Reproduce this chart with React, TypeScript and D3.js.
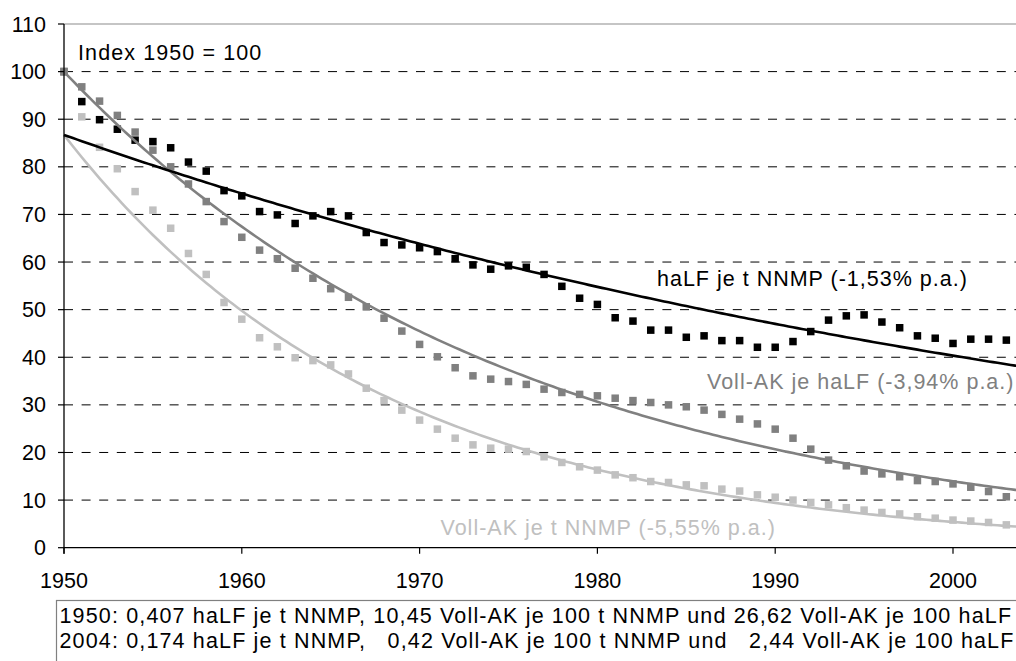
import React from 'react';
import * as d3 from 'd3';

// ---- data ----
const years = [
  1950, 1951, 1952, 1953, 1954, 1955, 1956, 1957, 1958, 1959,
  1960, 1961, 1962, 1963, 1964, 1965, 1966, 1967, 1968, 1969,
  1970, 1971, 1972, 1973, 1974, 1975, 1976, 1977, 1978, 1979,
  1980, 1981, 1982, 1983, 1984, 1985, 1986, 1987, 1988, 1989,
  1990, 1991, 1992, 1993, 1994, 1995, 1996, 1997, 1998, 1999,
  2000, 2001, 2002, 2003,
];

// haLF je t NNMP (black)
const haLFjeNNMP = [
  100, 93.7, 89.9, 87.9, 85.6, 85.3, 84.0, 81.0, 79.1, 75.0,
  73.9, 70.6, 69.9, 68.1, 69.7, 70.6, 69.7, 66.2, 64.1, 63.6,
  63.0, 62.2, 60.7, 59.4, 58.5, 59.2, 58.9, 57.4, 54.9, 52.4,
  51.1, 48.3, 47.6, 45.7, 45.7, 44.2, 44.5, 43.5, 43.5, 42.1,
  42.1, 43.3, 45.4, 47.8, 48.7, 48.9, 47.4, 46.2, 44.5, 44.0,
  42.9, 43.8, 43.8, 43.6,
];

// Voll-AK je haLF (mid grey)
const vollAKjeHaLF = [
  100, 96.8, 93.8, 90.8, 87.3, 83.5, 80.0, 76.4, 72.7, 68.5,
  65.2, 62.5, 60.7, 58.7, 56.6, 54.4, 52.6, 50.6, 48.2, 45.5,
  42.7, 40.1, 37.8, 36.1, 35.4, 34.9, 34.3, 33.3, 32.6, 32.2,
  31.9, 31.4, 30.9, 30.5, 30.0, 29.6, 28.9, 28.0, 27.0, 26.0,
  24.9, 23.0, 20.7, 18.4, 17.2, 16.1, 15.5, 14.9, 14.1, 13.9,
  13.4, 12.7, 11.8, 10.7,
];

// Voll-AK je t NNMP (light grey)
const vollAKjeNNMP = [
  100, 90.5, 84.1, 79.6, 74.8, 70.9, 67.1, 61.8, 57.4, 51.5,
  48.0, 44.1, 42.2, 39.9, 39.3, 38.4, 36.5, 33.5, 30.9, 28.9,
  26.8, 24.9, 23.0, 21.6, 20.9, 20.7, 20.2, 19.1, 17.9, 17.0,
  16.3, 15.3, 14.7, 13.9, 13.7, 13.2, 13.0, 12.3, 11.9, 11.1,
  10.6, 10.0, 9.5, 9.0, 8.4, 7.9, 7.4, 7.1, 6.5, 6.2,
  5.8, 5.6, 5.3, 4.8,
];

// exponential trend lines: start value in 1950 and rate (% p.a.)
const trendStart = [86.7, 100, 86.7];
const trendRate = [-1.53, -3.94, -5.55];
const trendLabels = [
  'haLF je t NNMP (-1,53% p.a.)',
  'Voll-AK je haLF (-3,94% p.a.)',
  'Voll-AK je t NNMP (-5,55% p.a.)',
];

const yTicks = [0, 10, 20, 30, 40, 50, 60, 70, 80, 90, 100, 110];
const xTicks = [1950, 1960, 1970, 1980, 1990, 2000];

const indexNote = 'Index 1950 = 100';
const boxLines = [
  '1950: 0,407 haLF je t NNMP, 10,45 Voll-AK je 100 t NNMP und 26,62 Voll-AK je 100 haLF',
  '2004: 0,174 haLF je t NNMP,   0,42 Voll-AK je 100 t NNMP und   2,44 Voll-AK je 100 haLF',
];

// ---- styling ----
const W = 1016;
const H = 661;
const FONT = '"Liberation Sans", Arial, Helvetica, sans-serif';
const COLORS = ['#000000', '#808080', '#c0c0c0'];

export default function App() {
  const x = d3.scaleLinear().domain([1950, 2000]).range([64, 953]);
  const y = d3.scaleLinear().domain([0, 110]).range([547.7, 24]);

  const series = [
    { values: haLFjeNNMP, color: COLORS[0] },
    { values: vollAKjeNNMP, color: COLORS[2] },
    { values: vollAKjeHaLF, color: COLORS[1] },
  ];

  const trendYears = d3.range(1950, 2005.01, 0.25);

  const trendPath = (i: number) =>
    d3
      .line<number>()
      .x((d) => x(d))
      .y((d) => y(trendStart[i] * Math.exp((trendRate[i] / 100) * (d - 1950))))(trendYears) || '';

  const sq = 7.5;
  const x0 = x(1950);
  const yBase = y(0);

  return (
    <svg
      width={W}
      height={H}
      style={{ position: 'absolute', left: 0, top: 0, background: '#fff', fontFamily: FONT }}
    >
      <rect x={0} y={0} width={W} height={H} fill="#fff" />

      {/* gridlines */}
      {yTicks
        .filter((t) => t > 0 && t < 110)
        .map((t) => (
          <line
            key={'g' + t}
            x1={x0}
            x2={W}
            y1={y(t)}
            y2={y(t)}
            stroke="#000"
            strokeWidth={1}
            strokeDasharray="9 8.6"
          />
        ))}
      {/* top plot border */}
      <line x1={x0} x2={W} y1={y(110)} y2={y(110)} stroke="#8c8c8c" strokeWidth={1.2} />

      {/* markers */}
      {series.map((s, si) => (
        <g key={'s' + si} fill={s.color}>
          {s.values.map((v, i) => (
            <rect key={i} x={x(years[i]) - sq / 2} y={y(v) - sq / 2} width={sq} height={sq} />
          ))}
        </g>
      ))}

      {/* trend lines */}
      {[2, 1, 0].map((i) => (
        <path key={'t' + i} d={trendPath(i)} fill="none" stroke={COLORS[i]} strokeWidth={2.6} />
      ))}

      {/* axes */}
      <line x1={x0} x2={x0} y1={y(110)} y2={yBase + 6} stroke="#000" strokeWidth={1.3} />
      <line x1={x0} x2={W} y1={yBase} y2={yBase} stroke="#000" strokeWidth={1.3} />
      {yTicks.map((t) => (
        <g key={'yt' + t}>
          <line x1={x0 - 6} x2={x0} y1={y(t)} y2={y(t)} stroke="#000" strokeWidth={1.2} />
          <text x={46} y={y(t) + 7.6} textAnchor="end" fontSize={21.5} fill="#000">
            {t}
          </text>
        </g>
      ))}
      {xTicks.map((t) => (
        <g key={'xt' + t}>
          <line x1={x(t)} x2={x(t)} y1={yBase} y2={yBase + 6} stroke="#000" strokeWidth={1.2} />
          <text x={x(t)} y={588.3} textAnchor="middle" fontSize={21.5} fill="#000">
            {t}
          </text>
        </g>
      ))}

      {/* annotations */}
      <text x={78} y={60} fontSize={21.5} letterSpacing={1.1} fill="#000">
        {indexNote}
      </text>
      <text x={657} y={285.5} fontSize={21.5} letterSpacing={1} fill={COLORS[0]}>
        {trendLabels[0]}
      </text>
      <text x={707} y={388.5} fontSize={21.5} letterSpacing={1} fill={COLORS[1]}>
        {trendLabels[1]}
      </text>
      <text x={440.5} y={535} fontSize={21.5} letterSpacing={1} fill={COLORS[2]}>
        {trendLabels[2]}
      </text>

      {/* info box */}
      <rect x={56.5} y={600.5} width={W} height={100} fill="none" stroke="#808080" strokeWidth={1.2} />
      {boxLines.map((l, i) => (
        <text
          key={'b' + i}
          x={59.5}
          y={623.3 + i * 25}
          fontSize={21.5}
          letterSpacing={1.15}
          fill="#000"
          style={{ whiteSpace: 'pre' }}
        >
          {l}
        </text>
      ))}
    </svg>
  );
}
